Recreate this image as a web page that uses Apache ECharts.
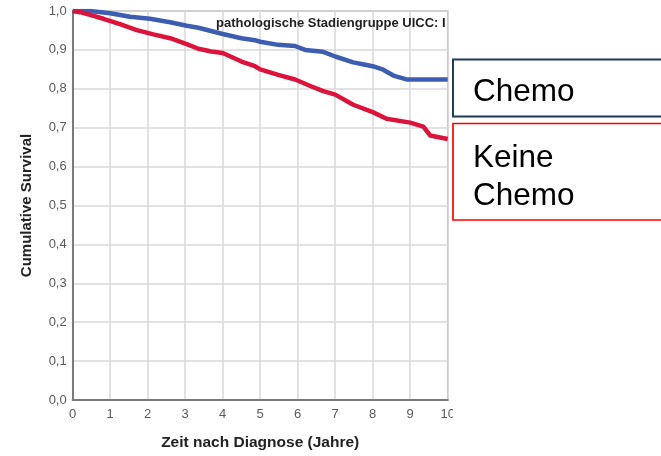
<!DOCTYPE html>
<html>
<head>
<meta charset="utf-8">
<script src="https://cdn.jsdelivr.net/npm/echarts@6/dist/echarts.min.js"></script>
<style>
  html, body { margin: 0; padding: 0; background: #fff; }
  #chart { width: 661px; height: 456px; }
</style>
</head>
<body>
<div id="chart"></div>
<script>
// Kaplan-Meier estimates, time in years after diagnosis
const chemoTime = [0, 0.46, 1.0, 1.53, 2.06, 2.6, 3.04, 3.35, 4.0, 4.5, 4.86, 5.0, 5.48, 5.93, 6.2, 6.68, 7.0, 7.48, 7.8, 8.0, 8.28, 8.55, 8.9, 10.0];
const chemoSurv = [1.0, 1.0, 0.994, 0.985, 0.980, 0.971, 0.962, 0.957, 0.941, 0.930, 0.925, 0.921, 0.913, 0.910, 0.900, 0.895, 0.883, 0.868, 0.862, 0.858, 0.849, 0.834, 0.824, 0.824];

const keineTime = [0, 0.2, 0.46, 0.82, 1.26, 1.71, 2.15, 2.6, 3.04, 3.35, 3.7, 4.0, 4.5, 4.86, 5.0, 5.48, 5.93, 6.37, 6.68, 7.0, 7.48, 8.0, 8.37, 9.0, 9.35, 9.53, 10.0];
const keineSurv = [1.0, 0.997, 0.990, 0.980, 0.966, 0.951, 0.940, 0.930, 0.915, 0.903, 0.896, 0.892, 0.870, 0.858, 0.850, 0.836, 0.824, 0.806, 0.794, 0.785, 0.759, 0.740, 0.723, 0.713, 0.703, 0.680, 0.671];

const xTicks = ['0', '1', '2', '3', '4', '5', '6', '7', '8', '9', '10'];
const yTicks = ['0,0', '0,1', '0,2', '0,3', '0,4', '0,5', '0,6', '0,7', '0,8', '0,9', '1,0'];

const groupLabels = ['Chemo', 'Keine\nChemo'];
const panelTitle = 'pathologische Stadiengruppe UICC: I';

const pairs = (xs, ys) => xs.map((x, i) => [x, ys[i]]);

const FONT = '"Liberation Sans", Arial, Helvetica, sans-serif';

const chart = echarts.init(document.getElementById('chart'), null, { renderer: 'canvas' });

chart.setOption({
  animation: false,
  backgroundColor: '#ffffff',
  grid: {
    left: 72.7, right: 213.3, top: 11, bottom: 54,
    show: true, borderColor: '#a8a8a8', borderWidth: 1.5,
    containLabel: false
  },
  xAxis: {
    type: 'value', min: 0, max: 10, interval: 1,
    name: 'Zeit nach Diagnose (Jahre)',
    nameLocation: 'middle', nameGap: 35,
    nameTextStyle: { fontFamily: FONT, fontWeight: 'bold', fontSize: 15.5, color: '#222' },
    axisLine: { show: true, lineStyle: { color: '#7a7a7a', width: 2 } },
    axisTick: { show: false },
    axisLabel: {
      fontFamily: FONT, fontSize: 13, color: '#5a5a5a', margin: 8,
      formatter: v => xTicks[Math.round(v)]
    },
    splitLine: { show: true, lineStyle: { color: '#d8d8d8', width: 1.5 } }
  },
  yAxis: {
    type: 'value', min: 0, max: 1, interval: 0.1,
    name: 'Cumulative Survival',
    nameLocation: 'middle', nameGap: 38, nameRotate: 90,
    nameTextStyle: { fontFamily: FONT, fontWeight: 'bold', fontSize: 15, color: '#222' },
    axisLine: { show: true, lineStyle: { color: '#7a7a7a', width: 2 } },
    axisTick: { show: false },
    axisLabel: {
      fontFamily: FONT, fontSize: 13, color: '#5a5a5a', margin: 6,
      formatter: v => yTicks[Math.round(v * 10)]
    },
    splitLine: { show: true, lineStyle: { color: '#d8d8d8', width: 1.5 } }
  },
  series: [
    {
      name: 'Chemo', type: 'line', data: pairs(chemoTime, chemoSurv),
      showSymbol: false, step: false, z: 3,
      lineStyle: { color: '#3d5db0', width: 4.5 }
    },
    {
      name: 'Keine Chemo', type: 'line', data: pairs(keineTime, keineSurv),
      showSymbol: false, step: false, z: 3,
      lineStyle: { color: '#dc143c', width: 4.5 }
    }
  ],
  graphic: [
    {
      type: 'text', left: 216, top: 17, z: 10,
      style: { text: panelTitle, font: 'bold 13px ' + FONT, fill: '#222' }
    },
    // panel edge: keeps the heading inside the frame
    { type: 'rect', shape: { x: 449, y: 0, width: 212, height: 40 }, style: { fill: '#fff' }, z: 20 },
    { type: 'rect', shape: { x: 453, y: 0, width: 208, height: 456 }, style: { fill: '#fff' }, z: 20 },
    // group boxes
    {
      type: 'rect', z: 30,
      shape: { x: 453, y: 59.5, width: 230, height: 57 },
      style: { fill: '#fff', stroke: '#1f3b57', lineWidth: 2 }
    },
    {
      type: 'text', z: 31, left: 473, top: 76,
      style: { text: groupLabels[0], font: '31.5px ' + FONT, fill: '#000' }
    },
    {
      type: 'rect', z: 30,
      shape: { x: 453, y: 123.5, width: 230, height: 96.5 },
      style: { fill: '#fff', stroke: '#ff0000', lineWidth: 1.7 }
    },
    {
      type: 'text', z: 31, left: 473, top: 139,
      style: { text: groupLabels[1], font: '31.5px ' + FONT, fill: '#000', lineHeight: 38.4 }
    }
  ]
});
</script>
</body>
</html>
